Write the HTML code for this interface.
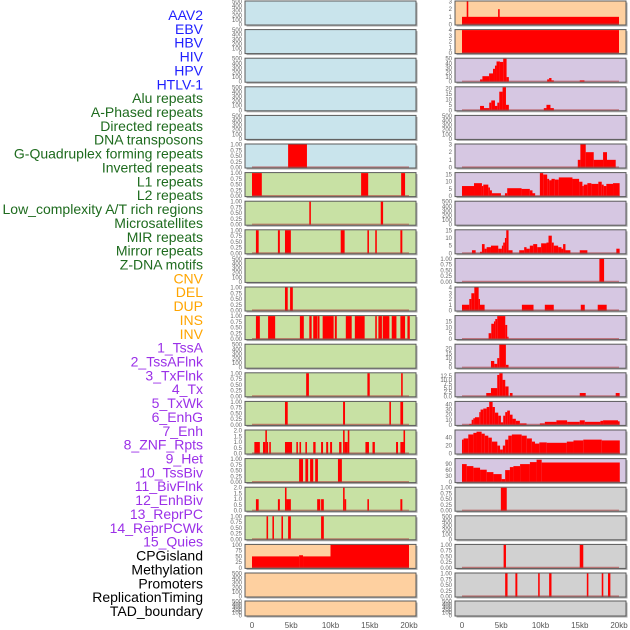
<!DOCTYPE html>
<html><head><meta charset="utf-8"><style>
html,body{margin:0;padding:0;background:#fff;width:630px;height:630px;overflow:hidden}
svg{display:block;font-family:"Liberation Sans",sans-serif}
</style></head><body>
<svg id="chart" width="630" height="630" viewBox="0 0 630 630" xmlns="http://www.w3.org/2000/svg"></svg>
<script>
// ---- data ----
const trackNames=["AAV2","EBV","HBV","HIV","HPV","HTLV-1","Alu repeats","A-Phased repeats","Directed repeats","DNA transposons","G-Quadruplex forming repeats","Inverted repeats","L1 repeats","L2 repeats","Low_complexity A/T rich regions","Microsatellites","MIR repeats","Mirror repeats","Z-DNA motifs","CNV","DEL","DUP","INS","INV","1_TssA","2_TssAFlnk","3_TxFlnk","4_Tx","5_TxWk","6_EnhG","7_Enh","8_ZNF_Rpts","9_Het","10_TssBiv","11_BivFlnk","12_EnhBiv","13_ReprPC","14_ReprPCWk","15_Quies","CPGisland","Methylation","Promoters","ReplicationTiming","TAD_boundary"];
const xTickValues=[0,5,10,15,20];
const xTickLabels=["0","5kb","10kb","15kb","20kb"];
const emptyTicks=[0,100,200,300,400,500];
const unitTicks=[0,0.25,0.5,0.75,1];
const twoTicks=[0,0.5,1,1.5,2];
// segments [startKb, endKb, value]
const segHTLV=[[4.6,7.0,1]];
const segAlu=[[0,1.25,1],[13.9,14.8,1],[19.0,19.5,1]];
const segAPhased=[[7.3,7.5,1],[16.4,16.7,1]];
const segDirected=[[0.5,0.85,1],[3.3,3.55,1],[4.2,4.95,1],[11.3,11.8,1],[14.7,14.9,1],[15.7,15.9,1],[18.9,19.15,1]];
const segGQuad=[[4.2,4.55,1],[4.85,5.2,1]];
const segInverted=[[0.5,1.0,1],[2.05,2.95,1],[6.1,6.6,1],[7.3,7.6,1],[7.8,8.3,1],[8.35,8.6,1],[9.0,10.4,1],[10.55,10.8,1],[11.95,12.7,1],[13.1,14.35,1],[15.7,15.9,1],[16.1,16.55,1],[16.65,17.5,1],[17.8,18.4,1],[18.9,19.5,1],[19.8,20.1,1]];
const segL2=[[6.9,7.25,1],[14.7,15.0,1],[19.0,19.2,1]];
const segLowComp=[[4.2,4.55,1],[11.6,11.85,1],[17.5,17.7,1],[18.9,19.25,1]];
const segMicro=[[0.3,1.0,1],[1.4,1.7,1],[1.7,1.9,2],[1.9,2.0,1],[2.2,2.4,1],[4.2,5.1,1],[5.65,5.85,1],[6.05,6.25,1],[6.8,7.0,1],[7.8,8.1,1],[8.8,9.05,1],[9.45,9.7,1],[9.95,10.2,1],[11.1,11.4,1],[11.6,11.8,2],[11.8,12.2,1],[12.2,12.4,2],[14.45,14.9,1],[15.35,15.65,1],[18.35,18.6,1],[18.9,19.3,1],[19.3,19.5,2]];
const segMIR=[[6.0,6.5,1],[6.8,7.15,1],[7.4,7.8,1],[8.05,8.4,1],[10.95,11.45,1]];
const segMirror=[[0.5,0.85,1],[3.3,3.55,1],[4.2,4.4,2],[4.4,4.95,1],[8.3,8.7,1],[8.8,9.15,1],[11.6,11.8,2],[11.8,12.0,1],[14.7,14.9,1],[18.9,19.15,1]];
const segZDNA=[[1.85,2.05,1],[2.6,2.8,1],[3.75,3.95,1],[4.6,4.95,1],[8.8,9.15,1]];
const segCNV=[[0,6.0,50],[6.0,6.5,55],[6.5,10,50],[10,20,100]];
const segINS=[[0,20,1],[0.6,0.8,3],[4.6,4.8,2]];
const segINV=[[0,20,4]];
const segTssA=[[2.3,2.6,5],[2.6,3.45,12],[3.45,3.95,18],[3.95,4.2,28],[4.2,4.4,35],[4.4,4.83,44],[4.83,5.25,43],[5.25,5.68,50],[5.68,5.97,10],[10.85,11.1,5],[11.1,11.4,8],[11.4,11.7,3],[15.0,15.6,3]];
const segTssAFlnk=[[2.3,2.8,4],[2.8,3.47,2],[3.47,3.73,7],[3.73,4.2,9],[4.2,4.5,4],[4.5,4.75,7],[4.75,5.17,17],[5.17,5.6,21],[5.6,5.97,5],[10.42,10.76,2],[10.76,11.27,5],[11.27,11.7,2]];
const segTx=[[14.75,15.08,1],[15.08,15.76,3],[15.76,16.78,2],[16.78,17.97,1],[17.97,18.47,2],[18.47,19.58,1]];
const segTxWk=[[0,1.53,7],[1.53,2.54,9],[2.54,2.71,7],[2.71,3.35,8],[3.35,3.56,6],[3.56,3.81,4],[3.81,4.96,2],[5.47,5.76,2],[5.76,7.59,5.5],[7.59,8.64,5],[8.64,8.98,4],[8.98,9.32,2],[9.92,10.34,16],[10.34,10.85,15],[10.85,11.1,12],[11.1,11.4,11],[11.4,11.82,12],[11.82,12.33,11.5],[12.33,14.07,13],[14.07,14.92,12],[14.92,15.34,10],[15.34,15.51,7],[15.51,15.97,8],[15.97,16.48,9],[16.48,17.37,8.5],[17.37,17.8,10],[17.8,18.05,8],[18.05,18.39,7],[18.39,19.24,8.5],[19.24,20.08,9]];
const segEnh=[[1.27,1.74,2],[2.29,2.54,1],[2.54,2.88,6],[2.88,3.14,3],[3.14,3.69,4],[3.69,4.62,5],[4.62,5.08,3],[5.08,5.25,5],[5.25,5.47,7],[5.47,5.64,10],[5.64,5.93,15],[5.93,6.44,2],[7.29,7.92,2],[7.92,8.22,4],[8.22,8.64,3],[8.64,9.07,5],[9.07,9.58,6],[9.58,10.08,4],[10.08,10.76,6.5],[10.76,11.02,7],[11.02,11.44,11.5],[11.44,11.69,7],[11.69,12.25,5],[12.25,12.67,4],[12.67,12.88,3],[12.88,13.18,6],[13.18,13.81,2],[15.0,15.97,2],[19.66,20.08,3]];
const segZNF=[[17.5,18.1,1]];
const segHet=[[0,0.93,1],[0.93,1.19,2],[1.19,1.57,3],[1.57,2.12,4],[2.12,2.29,2],[2.29,2.88,1],[7.63,9.11,1],[10.55,11.69,1],[15.13,15.64,1],[17.29,18.43,1]];
const segTssBiv=[[3.39,3.73,5],[3.73,4.07,13],[4.07,4.24,15],[4.24,4.49,17],[4.49,5.51,19.5],[5.51,5.76,12],[5.76,5.93,2]];
const segBivFlnk=[[3.69,4.11,7],[4.11,4.49,4],[4.49,4.75,10],[4.75,5.59,24],[5.59,5.93,3]];
const segEnhBiv=[[3.09,3.69,2],[3.69,4.49,5],[4.49,4.75,13],[4.75,5.17,14],[5.17,5.51,10],[5.51,5.93,6],[6.1,6.44,2],[15.0,15.76,2],[19.58,20.08,2]];
const segReprPC=[[0.93,1.23,2],[1.23,1.44,10],[1.44,1.65,13],[1.65,2.2,15],[2.2,2.37,25],[2.37,2.71,30],[2.71,3.14,32],[3.14,3.47,35],[3.47,3.9,45],[3.9,4.19,35],[4.19,4.62,24],[4.62,4.96,18],[4.96,5.25,5],[5.25,5.51,18],[5.51,5.76,25],[5.76,6.1,28],[6.1,6.44,20],[6.44,6.86,12],[6.86,7.37,8],[7.37,8.22,3],[9.92,10.55,3],[10.55,12.03,6],[12.03,13.39,9],[13.39,15.0,6],[15.0,15.64,9],[15.64,17.63,6],[17.63,17.97,8],[17.97,19.87,9],[19.87,20.08,7]];
const segReprPCWk=[[0,0.2,35],[0.2,0.8,38],[0.8,1.45,48],[1.45,1.85,52],[1.85,2.5,55],[2.5,2.9,50],[2.9,3.35,45],[3.35,3.8,40],[3.8,4.5,30],[4.5,4.85,20],[4.85,5.2,10],[5.2,5.5,20],[5.5,5.9,35],[5.9,6.35,45],[6.35,7.6,48],[7.6,8.25,45],[8.25,8.9,38],[8.9,9.3,30],[9.3,9.85,25],[9.85,10.8,28],[10.8,13.35,27],[13.35,14.2,30],[14.2,15.45,33],[15.45,17.8,35],[17.8,20.1,33]];
const segQuies=[[0,0.6,90],[0.6,1.45,80],[1.45,2.3,72],[2.3,3.15,62],[3.15,4.0,50],[4.0,5.05,40],[5.05,5.5,15],[5.5,6.1,60],[6.1,6.55,75],[6.55,7.4,80],[7.4,8.65,90],[8.65,9.5,100],[9.5,10.15,112],[10.15,20.1,98]];
const segCPG=[[4.95,5.7,1]];
const segProm=[[5.3,5.6,1],[15.0,15.45,1]];
const segRepTiming=[[5.5,5.8,1],[6.8,7.05,1],[9.7,9.9,1],[11.1,11.4,1],[15.9,16.1,1],[17.8,18.0,1],[18.6,18.9,1]];

const colBg={blue:"#c9e4ec",green:"#c8e1a4",orange:"#fed0a0",lav:"#d6c7e2",gray:"#d1d1d1"};
// col, row, bg, ymax, ticks, segments
const panels=[
[0,0,"blue",500,emptyTicks,null],[0,1,"blue",500,emptyTicks,null],[0,2,"blue",500,emptyTicks,null],[0,3,"blue",500,emptyTicks,null],[0,4,"blue",500,emptyTicks,null],
[0,5,"blue",1,unitTicks,segHTLV],[0,6,"green",1,unitTicks,segAlu],[0,7,"green",1,unitTicks,segAPhased],[0,8,"green",1,unitTicks,segDirected],
[0,9,"green",500,emptyTicks,null],[0,10,"green",1,unitTicks,segGQuad],[0,11,"green",1,unitTicks,segInverted],[0,12,"green",500,emptyTicks,null],
[0,13,"green",1,unitTicks,segL2],[0,14,"green",1,unitTicks,segLowComp],[0,15,"green",2,twoTicks,segMicro],[0,16,"green",1,unitTicks,segMIR],
[0,17,"green",2,twoTicks,segMirror],[0,18,"green",1,unitTicks,segZDNA],[0,19,"orange",100,[0,25,50,75,100],segCNV],
[0,20,"orange",500,emptyTicks,null],[0,21,"orange",500,emptyTicks,null],
[1,0,"orange",3,[0,1,2,3],segINS],[1,1,"orange",4,[0,1,2,3,4],segINV],[1,2,"lav",50,[0,10,20,30,40,50],segTssA],
[1,3,"lav",21,[0,5,10,15,20],segTssAFlnk],[1,4,"lav",500,emptyTicks,null],[1,5,"lav",3,[0,1,2,3],segTx],
[1,6,"lav",16,[0,5,10,15],segTxWk],[1,7,"lav",500,emptyTicks,null],[1,8,"lav",15,[0,5,10,15],segEnh],
[1,9,"lav",1,unitTicks,segZNF],[1,10,"lav",4,[0,1,2,3,4],segHet],[1,11,"lav",19.5,[0,5,10,15],segTssBiv],
[1,12,"lav",24,[0,5,10,15,20],segBivFlnk],[1,13,"lav",14,[0,2.5,5,7.5,10,12.5],segEnhBiv],[1,14,"lav",45,[0,10,20,30,40],segReprPC],
[1,15,"lav",58,[0,20,40],segReprPCWk],[1,16,"lav",115,[0,30,60,90],segQuies],[1,17,"gray",1,unitTicks,segCPG],
[1,18,"gray",500,emptyTicks,null],[1,19,"gray",1,unitTicks,segProm],[1,20,"gray",1,unitTicks,segRepTiming],[1,21,"gray",500,emptyTicks,null]
];
const labelColors=i=>i<6?"#1f1fff":i<19?"#1e6b1e":i<24?"#ffa500":i<39?"#9b30e8":"#000";

// ---- drawing ----
const svg=document.getElementById("chart");
const NS="http://www.w3.org/2000/svg";
function mk(tag,attrs,parent){const e=document.createElementNS(NS,tag);for(const k in attrs)e.setAttribute(k,attrs[k]);(parent||svg).appendChild(e);return e;}
const colLeft=[245,455];
const panelW=171;
const xScale=(col,kb)=>colLeft[col]+7+kb*7.85;
const rowTop=r=>r===21?601:1+r*28.6;
const rowH=r=>r===21?15:24;
function fmtTick(v,ticks){const m=Math.max(...ticks);if(m<=1)return v.toFixed(2);if(ticks.some(t=>t%1!==0))return v.toFixed(1);return String(v);}

trackNames.forEach((n,i)=>{
  const t=mk("text",{x:203,y:15+i*13.86+5,"text-anchor":"end","font-size":"14",fill:labelColors(i)});
  
  
  t.textContent=n;
});

panels.forEach((p,pi)=>{
  const [col,row,bg,ymax,ticks,segs]=p;
  const x0=colLeft[col],y0=rowTop(row),h=rowH(row);
  const g=mk("g",{});
  
  
  mk("rect",{x:x0+1.5,y:y0+1.5,width:panelW,height:h,fill:"#aaa"},g);
  mk("rect",{x:x0,y:y0,width:panelW,height:h,fill:colBg[bg],stroke:"#5a5a5a","stroke-width":1},g);
  const yS=v=>y0+h-0.5-(v/ymax)*(h-1);
  ticks.forEach(v=>{
    const t=mk("text",{x:x0-3,y:yS(v)+2,"text-anchor":"end","font-size":"6",fill:"#666"},g);
    
    
    t.textContent=fmtTick(v,ticks);
  });
  if(segs){
    segs.forEach(s=>{
      const xa=xScale(col,s[0]),xb=xScale(col,Math.min(s[1],20.3));
      const b=mk("rect",{x:xa,y:yS(s[2]),width:Math.max(xb-xa,1.2),height:yS(0)-yS(s[2]),fill:"#ff0000"},g);
      
      
    });
    mk("line",{x1:xScale(col,0),x2:xScale(col,20),y1:y0+h-1,y2:y0+h-1,stroke:"#b04040","stroke-width":1.2,opacity:0.6},g);
  }
});

[0,1].forEach(col=>{
  xTickValues.forEach((v,i)=>{
    const t=mk("text",{x:xScale(col,v),y:628,"text-anchor":"middle","font-size":"8",fill:"#555"});
    
    
    t.textContent=xTickLabels[i];
  });
});
</script>
</body></html>
